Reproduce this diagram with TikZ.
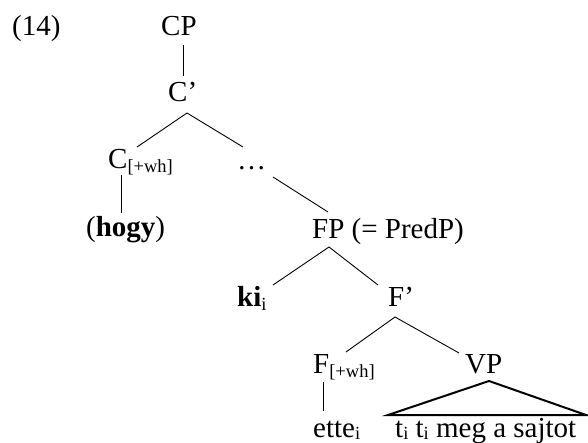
\documentclass[tikz,border=0pt]{standalone}
\usepackage{fontspec}
\setmainfont{Liberation Serif}
\usetikzlibrary{calc}
\newcommand\sbs[1]{\raisebox{-4pt}{\fontsize{18.5}{20}\selectfont #1}}
\newcommand\sbb[1]{\raisebox{-2.5pt}{\fontsize{18.5}{20}\selectfont #1}}
\begin{document}
\begin{tikzpicture}[x=1pt,y=-1pt,
  lab/.style={inner sep=0pt,anchor=base west,font=\fontsize{29}{34}\selectfont},
  br/.style={line width=0.9pt},
  tri/.style={line width=2pt,line join=miter}]
\useasboundingbox (0,0) rectangle (588,443);
\node[lab] (ex) at (12,36) {(14)};
\node[lab] (cp) at (161,36) {CP};
\node[lab] (cbar) at (168,102) {C’};
\node[lab] (c) at (108,169) {C\sbs{[+wh]}};
\node[lab] (dots) at (237,170) {…};
\node[lab] (hogy) at (86,237) {(\textbf{hogy})};
\node[lab] (fp) at (312,239) {FP (= PredP)};
\node[lab] (ki) at (237,306) {\textbf{ki}\sbs{i}};
\node[lab] (fbar) at (388,306) {F’};
\node[lab] (f) at (313,373) {F\sbs{[+wh]}};
\node[lab] (vp) at (465,373) {VP};
\node[lab] (ette) at (313,437) {ette\sbb{i}};
\node[lab] (tt) at (395,437) {t\sbb{i} t\sbb{i} meg a sajtot};
\draw[br] ($(cp.base west)+(22,9)$) -- ($(cbar.base west)+(15,-26)$);
\draw[br] ($(cbar.base west)+(19,11)$) -- ($(c.base west)+(29,-22)$);
\draw[br] ($(cbar.base west)+(19,11)$) -- ($(dots.base west)+(6,-23)$);
\draw[br] ($(c.base west)+(13,6)$) -- ($(hogy.base west)+(35,-24)$);
\draw[br] ($(dots.base west)+(36,7)$) -- ($(fp.base west)+(16,-27)$);
\draw[br] ($(fp.base west)+(17,8)$) -- ($(ki.base west)+(36,-21)$);
\draw[br] ($(fp.base west)+(17,8)$) -- ($(fbar.base west)+(-10,-21)$);
\draw[br] ($(fbar.base west)+(7,11)$) -- ($(f.base west)+(33,-21)$);
\draw[br] ($(fbar.base west)+(7,11)$) -- ($(vp.base west)+(-6,-20)$);
\draw[br] ($(f.base west)+(10,9)$) -- ($(ette.base west)+(10,-26)$);
\draw[tri] ($(tt.base west)+(-7,-22)$) -- ($(vp.base west)+(24,8)$) -- ($(tt.base west)+(191,-22)$) -- cycle;
\end{tikzpicture}
\end{document}
